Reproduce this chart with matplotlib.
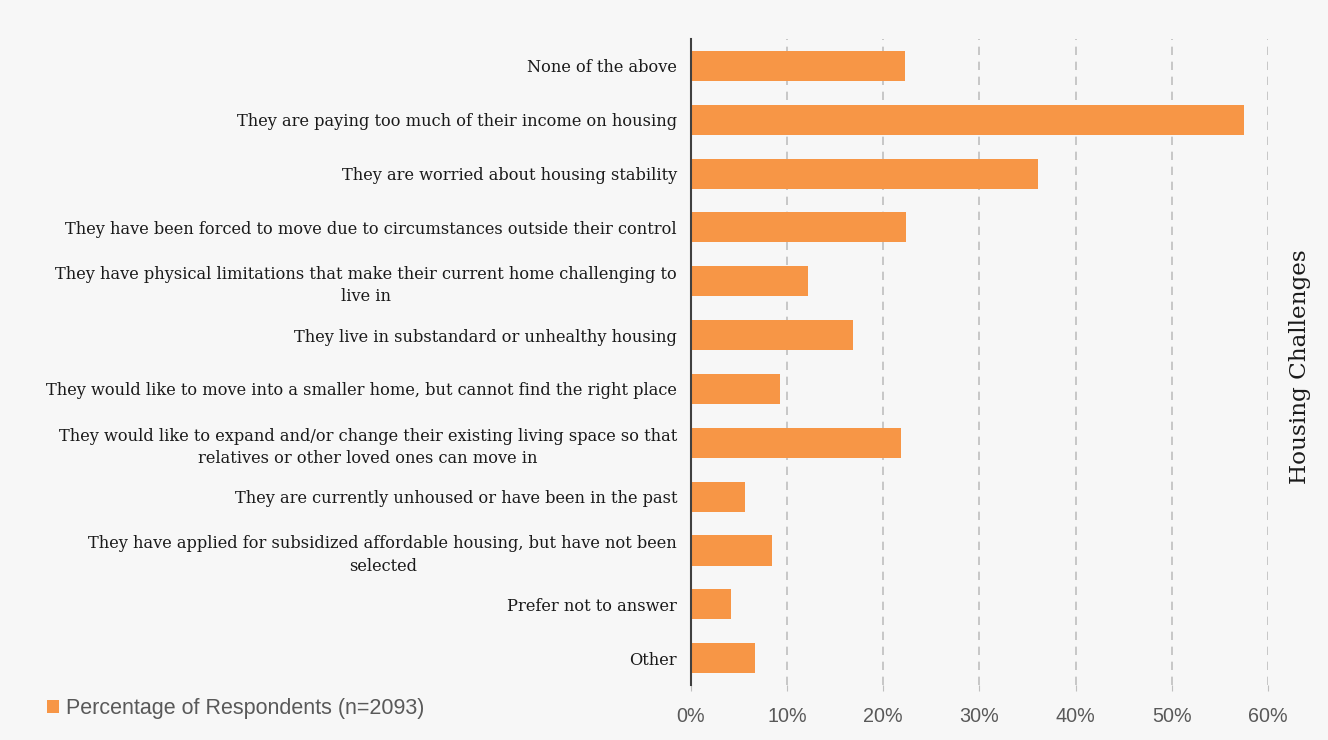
import matplotlib
matplotlib.use("Agg")
import matplotlib.pyplot as plt
from matplotlib.ticker import PercentFormatter
from matplotlib.patches import Patch

# data
categories = [
    "None of the above",
    "They are paying too much of their income on housing",
    "They are worried about housing stability",
    "They have been forced to move due to circumstances outside their control",
    "They have physical limitations that make their current home challenging to\nlive in",
    "They live in substandard or unhealthy housing",
    "They would like to move into a smaller home, but cannot find the right place",
    "They would like to expand and/or change their existing living space so that\nrelatives or other loved ones can move in",
    "They are currently unhoused or have been in the past",
    "They have applied for subsidized affordable housing, but have not been\nselected",
    "Prefer not to answer",
    "Other",
]
percentages = [22.3, 57.5, 36.1, 22.4, 12.2, 16.8, 9.3, 21.8, 5.6, 8.4, 4.2, 6.7]
x_ticks = [0, 10, 20, 30, 40, 50, 60]
series_label = "Percentage of Respondents (n=2093)"
right_label = "Housing Challenges"

bar_color = "#f79646"
bg = "#f7f7f7"

# 1. figure
fig = plt.figure(figsize=(13.28, 7.4), dpi=100, facecolor=bg)
ax = fig.add_axes([0.5203, 0.0743, 0.4345, 0.873])
ax.set_facecolor(bg)

# 2. bars
y_pos = list(range(len(categories)))
ax.barh(y_pos, percentages, height=0.56, color=bar_color, zorder=3)

ax.set_ylim(len(categories) - 0.5, -0.5)
ax.set_xlim(0, 60)

# 3. ticks and labels
ax.set_yticks(y_pos)
ax.set_yticklabels(categories, fontsize=11.7, family="DejaVu Serif",
                   color="#1a1a1a", ha="right", multialignment="center",
                   linespacing=1.4)
ax.tick_params(axis="y", length=0, pad=10)

ax.set_xticks(x_ticks)
ax.xaxis.set_major_formatter(PercentFormatter(decimals=0))
ax.tick_params(axis="x", length=4, color="#bfbfbf", pad=12)
for lbl in ax.get_xticklabels():
    lbl.set_family("Liberation Sans")
    lbl.set_fontsize(14.2)
    lbl.set_color("#595959")

ax.grid(axis="x", linestyle=(0, (5, 4)), color="#bfbfbf", linewidth=1.2, zorder=0)

for side in ["top", "right", "bottom"]:
    ax.spines[side].set_visible(False)
ax.spines["left"].set_color("#404040")
ax.spines["left"].set_linewidth(1.5)
ax.spines["left"].set_zorder(4)

# 4. right label
fig.text(0.979, 0.505, right_label, rotation=90, va="center", ha="center",
         fontsize=16.7, family="DejaVu Serif", color="#1a1a1a")

# 5. legend
handle = Patch(facecolor=bar_color, edgecolor="none")
fig.legend(handles=[handle], labels=[series_label], loc="center left",
           bbox_to_anchor=(0.021, 0.042), frameon=False,
           prop={"family": "Liberation Sans", "size": 15.5},
           labelcolor="#595959", handlelength=0.55, handleheight=0.55,
           handletextpad=0.3)

# 6. save
plt.savefig("out.png", dpi=100, facecolor=bg)
